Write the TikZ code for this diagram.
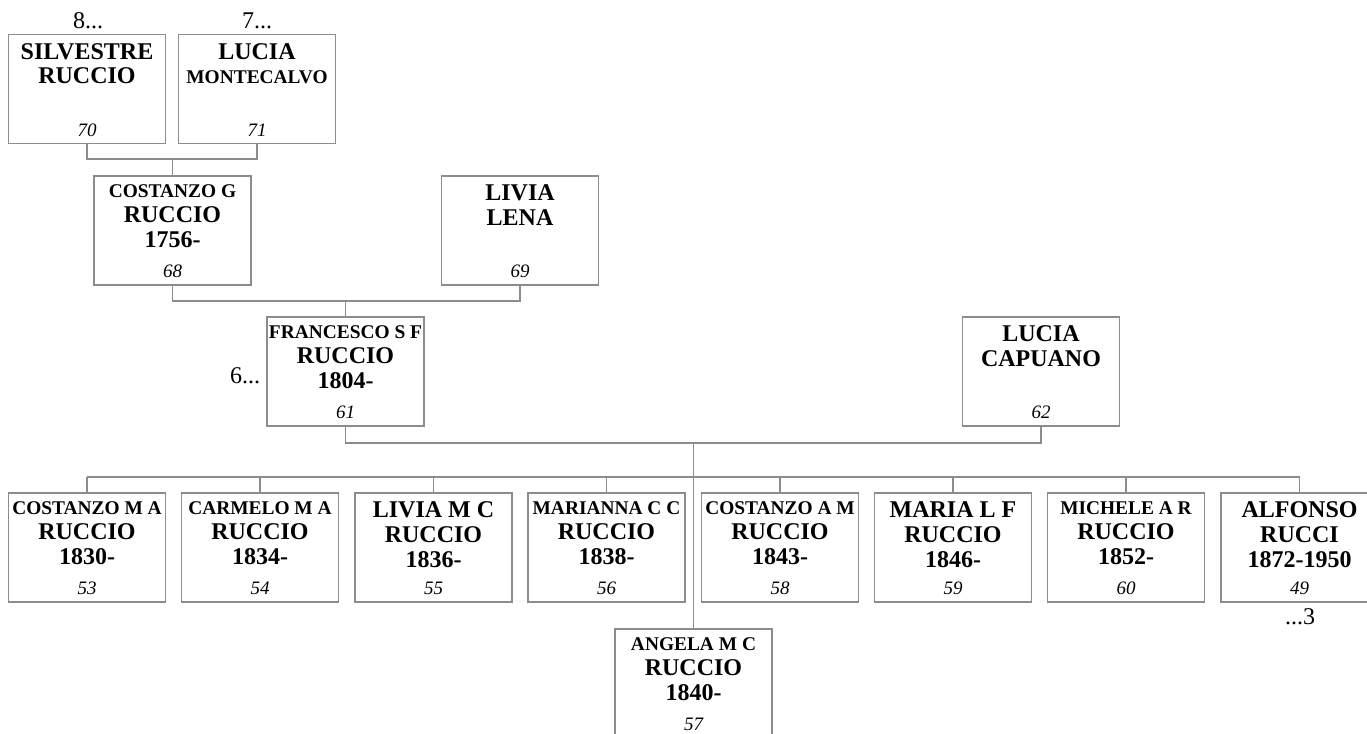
\documentclass[tikz,border=0pt]{standalone}
\usepackage{fontspec}
\setmainfont{Liberation Serif}
\usepackage{tikz}
\definecolor{lijn}{RGB}{140,140,140}

\tikzset{
  pbox/.style={draw=lijn, line width=0.7pt, minimum width=78.5pt, minimum height=54.5pt, inner sep=0pt},
  pname/.style={anchor=north, yshift=-4.5pt, inner sep=0pt, align=center, font=\fontsize{12}{12.4}\selectfont\bfseries},
  pnum/.style={anchor=base, yshift=4pt, inner sep=0pt, font=\fontsize{9.5}{10}\selectfont\itshape},
  more/.style={inner sep=0pt, font=\fontsize{12}{12}\selectfont},
  lijnen/.style={draw=lijn, line width=0.65pt}
}
\newcommand{\sm}{\fontsize{9.7}{12.4}\selectfont}
% box, naam, nummer
\newcommand{\persoon}[4]{%
  \node[pbox] (#1) at (#2) {};
  \node[pname] (#1n) at (#1.north) {#3};
  \node[pnum] (#1k) at (#1.south) {#4};
}

\begin{document}
\begin{tikzpicture}[x=0.5pt, y=-0.5pt]
\useasboundingbox (0,0) rectangle (1367,734);
\clip (0,0) rectangle (1367,734);
% grootouders
\persoon{p70}{87,89}{SILVESTRE\\RUCCIO}{70}
\persoon{p71}{257,89}{LUCIA\\{\sm MONTECALVO}}{71}
% ouders
\persoon{p68}{172.5,230.5}{{\sm COSTANZO G}\\RUCCIO\\1756-}{68}
\persoon{p69}{520,230.5}{LIVIA\\LENA}{69}
\persoon{p61}{345.5,371.5}{{\sm FRANCESCO S F}\\RUCCIO\\1804-}{61}
\persoon{p62}{1041,371.5}{LUCIA\\CAPUANO}{62}
% kinderen
\persoon{p53}{87,547.5}{{\sm COSTANZO M A}\\RUCCIO\\1830-}{53}
\persoon{p54}{260,547.5}{{\sm CARMELO M A}\\RUCCIO\\1834-}{54}
\persoon{p55}{433.5,547.5}{LIVIA M C\\RUCCIO\\1836-}{55}
\persoon{p56}{606.5,547.5}{{\sm MARIANNA C C}\\RUCCIO\\1838-}{56}
\persoon{p58}{780,547.5}{{\sm COSTANZO A M}\\RUCCIO\\1843-}{58}
\persoon{p59}{953,547.5}{MARIA L F\\RUCCIO\\1846-}{59}
\persoon{p60}{1126,547.5}{{\sm MICHELE A R}\\RUCCIO\\1852-}{60}
\persoon{p49}{1299.5,547.5}{ALFONSO\\RUCCI\\1872-1950}{49}
\persoon{p57}{693.5,683.5}{{\sm ANGELA M C}\\RUCCIO\\1840-}{57}
% verbindingen
\coordinate (v1) at (172.5,159);
\draw[lijnen] (p70.south) |- (v1) -| (p71.south);
\draw[lijnen] (v1) -- (p68.north);
\coordinate (v2) at (345.5,301);
\draw[lijnen] (p68.south) |- (v2) -| (p69.south);
\draw[lijnen] (v2) -- (p61.north);
\coordinate (v3) at (693.5,443);
\draw[lijnen] (p61.south) |- (v3) -| (p62.south);
\draw[lijnen] (v3) -- (p57.north);
\coordinate (kb) at (693.5,477);
\draw[lijnen] (p53.north |- kb) -- (p49.north |- kb);
\foreach \k in {p53,p54,p55,p56,p58,p59,p60,p49}
  \draw[lijnen] (\k.north) -- (\k.north |- kb);
% verder
\node[more] (m8) at (88,21) {8...};
\node[more] (m7) at (257,21) {7...};
\node[more] (m6) at (245,376) {6...};
\node[more] (m3) at (1300,617) {...3};
\end{tikzpicture}
\end{document}
